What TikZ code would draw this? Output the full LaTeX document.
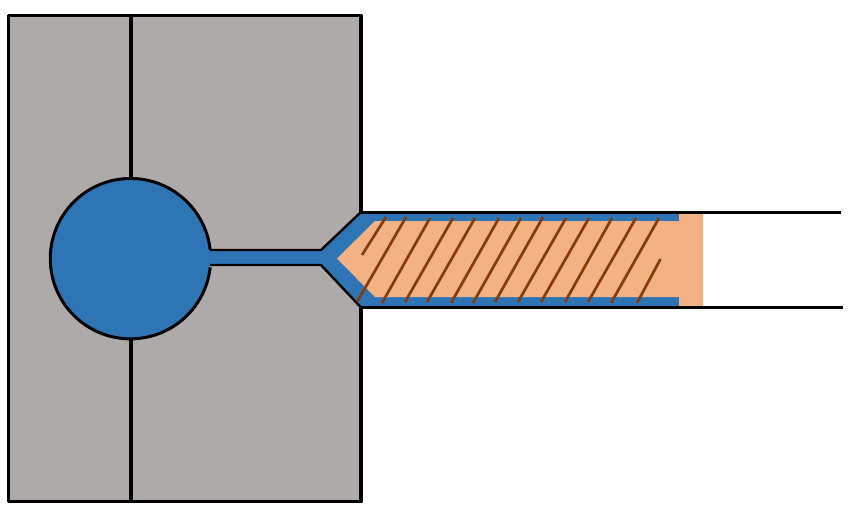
\documentclass[tikz,border=0pt]{standalone}
\definecolor{moldgray}{HTML}{AEAAAA}
\definecolor{meltblue}{HTML}{2E75B6}
\definecolor{fillorange}{HTML}{F4B183}
\definecolor{fibrebrown}{HTML}{843C0C}
\tikzset{
  outline/.style={draw=black,line width=3.3pt,line join=round},
  wall/.style={draw=black,line width=3pt,line join=miter},
  thinwall/.style={draw=black,line width=2.4pt,line join=round},
  fibre/.style={draw=fibrebrown,line width=2.7pt},
}
\begin{document}
\begin{tikzpicture}[x=1pt,y=-1pt]
\useasboundingbox (0,0) rectangle (858,519);
% mould block
\fill[moldgray] (8.5,15.3) rectangle (361,501.5);
% blue melt region
\fill[meltblue] (321,250) -- (361,212) -- (679,212) -- (679,307.5) -- (361,307.5) -- (321,265) -- (205,265) -- (205,250) -- cycle;
% orange fill
\fill[fillorange] (337,258.5) -- (375,221) -- (679,221) -- (679,213) -- (703,213) -- (703,306.5) -- (679,306.5) -- (679,297) -- (375,297) -- cycle;
% mould outline
\draw[outline] (361,212) -- (361,15.3) -- (8.5,15.3) -- (8.5,501.5) -- (361,501.5) -- (361,307.5);
\draw[outline] (131,15.3) -- (131,178);
\draw[outline] (131,339) -- (131,501.5);
% cavity walls
\draw[thinwall] (361,212) -- (321,250) -- (210,250);
\draw[thinwall] (361,307.5) -- (321,265) -- (210,265);
\draw[wall] (841,212) -- (360,212);
\draw[wall] (843,307.5) -- (360,307.5);
% sprue circle
\draw[wall,fill=meltblue] (210.2,250) arc[start angle=-6.2,end angle=-353.8,radius=80.2];
% fibres
\foreach \xa/\ya/\xb/\yb in {
  386/217/362/255, 406/217/357/302, 430/218/382/303, 453/218/405/302,
  475/218/427/302, 499/218/451/303, 521/218/473/303, 543/217/495/302,
  566/218/518/302, 589/218/541/302, 612/218/565/302, 636/218/588/302,
  659/218/611/303, 660.5/259/637/303}
  \draw[fibre] (\xa,\ya) -- (\xb,\yb);
\end{tikzpicture}
\end{document}
